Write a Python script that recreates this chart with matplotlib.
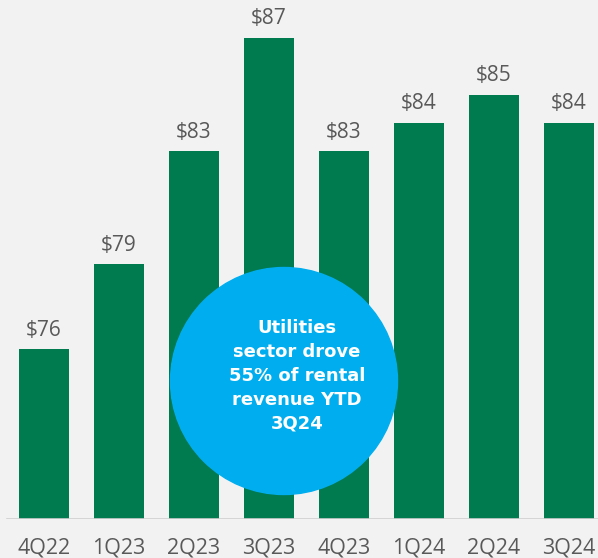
import matplotlib
matplotlib.use('Agg')
import matplotlib.pyplot as plt
from matplotlib.patches import Ellipse

quarters = ['4Q22', '1Q23', '2Q23', '3Q23', '4Q23', '1Q24', '2Q24', '3Q24']
revenue = [76, 79, 83, 87, 83, 84, 85, 84]
callout = 'Utilities\nsector drove\n55% of rental\nrevenue YTD\n3Q24'

bg = '#f2f2f2'
green = '#007a4f'
blue = '#00aeef'
grey = '#595959'

fig = plt.figure(figsize=(5.98, 5.58), dpi=100, facecolor=bg)
ax = fig.add_axes([0, 39 / 558, 1, 1 - 39 / 558])
ax.set_facecolor(bg)

x = list(range(len(quarters)))
ax.bar(x, [v - 70 for v in revenue], bottom=70, width=50 / 75, color=green, zorder=2)
for xi, v in zip(x, revenue):
    ax.text(xi, v + 0.3, '$%d' % v, ha='center', va='bottom',
            fontsize=15, color=grey, family='Open Sans')

ax.set_xlim(-44 / 75, (598 - 44) / 75)
ax.set_ylim(70, 70 + 519 / 28.3)
ax.axhline(70, xmin=7 / 598, xmax=1, color='#d0d0d0', lw=1.2, zorder=3)

ax.set_xticks(x)
ax.set_xticklabels(quarters, fontsize=15.5, color=grey, family='Open Sans')
ax.tick_params(axis='x', length=0, pad=13)
ax.set_yticks([])
for s in ax.spines.values():
    s.set_visible(False)

circ = Ellipse((284 / 598, 1 - 381 / 558), 227 / 598, 227 / 558,
               transform=fig.transFigure, color=blue, zorder=5)
fig.patches.append(circ)
fig.text(297 / 598, 1 - 376 / 558, callout, ha='center', va='center',
         color='white', fontsize=13, fontweight='bold', family='DejaVu Sans',
         linespacing=1.42, zorder=6)

fig.savefig('out.png', dpi=100, facecolor=bg)
